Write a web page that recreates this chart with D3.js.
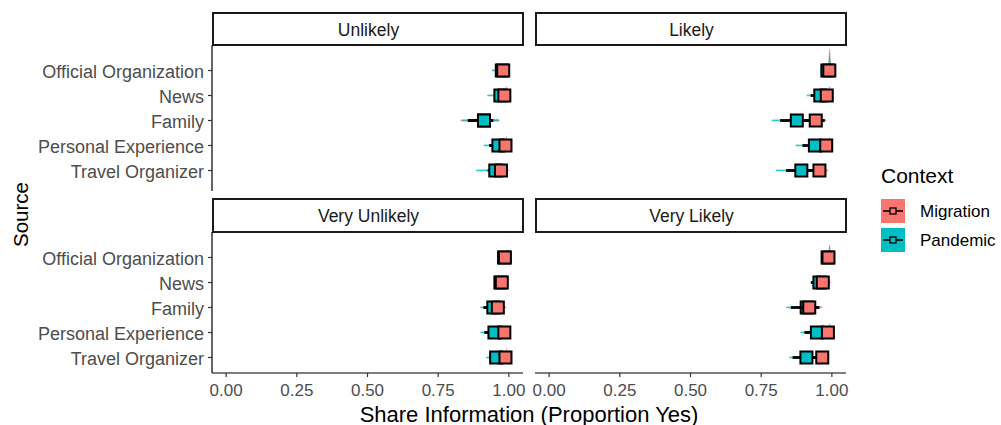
<!DOCTYPE html>
<html>
<head>
<meta charset="utf-8">
<script src="https://cdn.jsdelivr.net/npm/d3@7.9.0/dist/d3.min.js"></script>
<style>
  body { margin: 0; background: #fff; }
  svg { font-family: "Liberation Sans", Arial, sans-serif; }
</style>
</head>
<body>
<div id="chart"></div>
<script>
// categories
const facets = ["Unlikely", "Likely", "Very Unlikely", "Very Likely"];
const sources = ["Official Organization", "News", "Family", "Personal Experience", "Travel Organizer"];
const contexts = ["Migration", "Pandemic"];
const xTicks = [0, 0.25, 0.5, 0.75, 1];

// rows per source: [point, intervalLo, intervalHi, slabMin, slabMax, peakDensity]
const migUnlikely = [
  [0.980, 0.965, 0.995, 0.955, 1.000, 0.30],
  [0.984, 0.965, 0.998, 0.950, 1.000, 0.40],
  [0.912, 0.855, 0.945, 0.830, 0.965, 0.00],
  [0.988, 0.970, 1.000, 0.955, 1.000, 0.40],
  [0.972, 0.950, 0.990, 0.935, 1.000, 0.10]
];
const panUnlikely = [
  [0.975, 0.960, 0.990, 0.940, 1.000, 0.05],
  [0.970, 0.950, 0.985, 0.925, 0.995, 0.00],
  [0.912, 0.855, 0.940, 0.835, 0.965, 0.00],
  [0.963, 0.930, 0.985, 0.912, 0.995, 0.00],
  [0.952, 0.925, 0.975, 0.885, 0.990, 0.00]
];
const migLikely = [
  [0.991, 0.980, 1.000, 0.970, 1.000, 0.95],
  [0.982, 0.965, 0.997, 0.955, 1.000, 0.40],
  [0.943, 0.900, 0.975, 0.880, 0.980, 0.05],
  [0.980, 0.960, 0.995, 0.950, 1.000, 0.35],
  [0.956, 0.920, 0.980, 0.900, 0.985, 0.00]
];
const panLikely = [
  [0.984, 0.970, 0.997, 0.960, 1.000, 0.80],
  [0.959, 0.925, 0.980, 0.912, 0.990, 0.00],
  [0.876, 0.817, 0.920, 0.788, 0.940, 0.00],
  [0.940, 0.896, 0.970, 0.873, 0.985, 0.00],
  [0.892, 0.838, 0.930, 0.803, 0.950, 0.00]
];
const migVeryUnlikely = [
  [0.986, 0.975, 0.997, 0.965, 1.000, 0.35],
  [0.975, 0.960, 0.990, 0.955, 0.998, 0.00],
  [0.961, 0.940, 0.980, 0.930, 0.990, 0.00],
  [0.984, 0.965, 0.998, 0.955, 1.000, 0.30],
  [0.988, 0.975, 1.000, 0.965, 1.000, 0.40]
];
const panVeryUnlikely = [
  [0.983, 0.972, 0.995, 0.965, 1.000, 0.00],
  [0.970, 0.955, 0.985, 0.950, 0.990, 0.00],
  [0.945, 0.910, 0.970, 0.900, 0.980, 0.00],
  [0.949, 0.913, 0.975, 0.900, 0.985, 0.00],
  [0.955, 0.930, 0.975, 0.920, 0.985, 0.00]
];
const migVeryLikely = [
  [0.988, 0.978, 0.998, 0.970, 1.000, 0.55],
  [0.968, 0.950, 0.985, 0.945, 0.995, 0.00],
  [0.920, 0.890, 0.956, 0.880, 0.965, 0.00],
  [0.986, 0.970, 0.998, 0.960, 1.000, 0.40],
  [0.966, 0.930, 0.985, 0.920, 0.990, 0.00]
];
const panVeryLikely = [
  [0.985, 0.975, 0.995, 0.965, 1.000, 0.50],
  [0.956, 0.926, 0.980, 0.925, 0.985, 0.00],
  [0.911, 0.855, 0.940, 0.840, 0.950, 0.00],
  [0.947, 0.903, 0.970, 0.890, 0.980, 0.00],
  [0.910, 0.861, 0.940, 0.850, 0.955, 0.00]
];
// rows where the Pandemic point lies above the Migration point
const pandemicOnTop = [["Unlikely", "Family"]];

const colors = { Migration: "#F8766D", Pandemic: "#00BFC4" };
const series = {
  Migration: { "Unlikely": migUnlikely, "Likely": migLikely, "Very Unlikely": migVeryUnlikely, "Very Likely": migVeryLikely },
  Pandemic: { "Unlikely": panUnlikely, "Likely": panLikely, "Very Unlikely": panVeryUnlikely, "Very Likely": panVeryLikely }
};

const rows = [];
facets.forEach(f => contexts.forEach(c => series[c][f].forEach((r, i) => {
  rows.push({ facet: f, context: c, source: sources[i],
    point: r[0], lo: r[1], hi: r[2], sMin: r[3], sMax: r[4], peak: r[5] });
})));

// layout
const W = 1001, H = 425;
const cols = [{ x0: 212, x1: 523 }, { x0: 535, x1: 846 }];
const panelRows = [{ strip: 12, top: 45, bottom: 191 }, { strip: 198, top: 232, bottom: 373 }];

const svg = d3.select("#chart").append("svg")
  .attr("width", W).attr("height", H);

const textCol = "#4d4d4d";

function xScale(ci) {
  return d3.scaleLinear().domain([-0.05, 1.05]).range([cols[ci].x0, cols[ci].x1]);
}
function yScale(ri) {
  const p = panelRows[ri];
  return d3.scalePoint().domain(sources).range([p.top + 25.5, p.top + 125.5]);
}

facets.forEach((f, fi) => {
  const ci = fi % 2, ri = Math.floor(fi / 2);
  const x = xScale(ci), y = yScale(ri);
  const c = cols[ci], p = panelRows[ri];
  const g = svg.append("g");
  const step = y.step();
  const dens = d3.scaleLinear().domain([0, 1]).range([0, 0.9 * step]);

  // strip
  g.append("rect")
    .attr("x", c.x0 + 1).attr("y", p.strip + 1)
    .attr("width", c.x1 - c.x0 - 1).attr("height", p.top - p.strip - 1)
    .attr("fill", "#fff").attr("stroke", "#1a1a1a").attr("stroke-width", 2);
  g.append("text")
    .attr("x", (c.x0 + c.x1) / 2 + 1).attr("y", (p.strip + p.top) / 2 + 1)
    .attr("text-anchor", "middle").attr("dominant-baseline", "central")
    .attr("font-size", 17.5).attr("fill", "#1a1a1a")
    .text(f);

  const fr = rows.filter(d => d.facet === f);

  // slabs (half-eye densities)
  fr.forEach(d => {
    const y0 = y(d.source);
    const pk = d.sMax - 0.008;
    const h = Math.max(1, dens(d.peak));
    const path = d3.path();
    path.moveTo(x(d.sMin), y0 + 0.5);
    path.lineTo(x(d.sMin), y0 - 0.6);
    path.lineTo(x(pk - 0.004), y0 - 0.8);
    path.lineTo(x(pk), y0 - h);
    path.lineTo(x(Math.min(d.sMax, pk + 0.004)), y0 - 0.8);
    path.lineTo(x(d.sMax), y0 - 0.6);
    path.lineTo(x(d.sMax), y0 + 0.5);
    path.closePath();
    g.append("path")
      .attr("d", path.toString())
      .attr("fill", colors[d.context])
      .attr("stroke", colors[d.context])
      .attr("stroke-width", 0.6)
      .attr("opacity", 0.8);
  });

  // intervals + points, ordered
  const ordered = [];
  sources.forEach(s => {
    const flip = pandemicOnTop.some(t => t[0] === f && t[1] === s);
    const order = flip ? ["Migration", "Pandemic"] : ["Pandemic", "Migration"];
    order.forEach(cn => ordered.push(fr.find(d => d.source === s && d.context === cn)));
  });
  ordered.forEach(d => {
    const y0 = y(d.source);
    g.append("line")
      .attr("x1", x(d.lo)).attr("x2", x(d.hi))
      .attr("y1", y0).attr("y2", y0)
      .attr("stroke", "#000").attr("stroke-width", 2.8);
    g.append("rect")
      .attr("x", x(d.point) - 6).attr("y", y0 - 6)
      .attr("width", 12).attr("height", 12)
      .attr("fill", colors[d.context])
      .attr("stroke", "#000").attr("stroke-width", 2);
  });

  // y axis on left panels
  if (ci === 0) {
    g.append("line")
      .attr("x1", c.x0).attr("x2", c.x0)
      .attr("y1", p.top).attr("y2", p.bottom)
      .attr("stroke", "#000").attr("stroke-width", 1.2);
    sources.forEach(s => {
      g.append("line")
        .attr("x1", c.x0 - 4).attr("x2", c.x0)
        .attr("y1", y(s)).attr("y2", y(s))
        .attr("stroke", "#333").attr("stroke-width", 1.2);
      g.append("text")
        .attr("x", c.x0 - 8).attr("y", y(s) + 1)
        .attr("text-anchor", "end").attr("dominant-baseline", "central")
        .attr("font-size", 18).attr("fill", textCol)
        .text(s);
    });
  }

  // x axis on bottom panels
  if (ri === 1) {
    g.append("line")
      .attr("x1", c.x0).attr("x2", c.x1)
      .attr("y1", p.bottom).attr("y2", p.bottom)
      .attr("stroke", "#000").attr("stroke-width", 1.2);
    xTicks.forEach(t => {
      g.append("line")
        .attr("x1", x(t)).attr("x2", x(t))
        .attr("y1", p.bottom).attr("y2", p.bottom + 4)
        .attr("stroke", "#333").attr("stroke-width", 1.2);
      g.append("text")
        .attr("x", x(t)).attr("y", p.bottom + 17.5)
        .attr("text-anchor", "middle").attr("dominant-baseline", "central")
        .attr("font-size", 17).attr("fill", textCol)
        .text(d3.format(".2f")(t));
    });
  }
});

// axis titles
svg.append("text")
  .attr("x", (cols[0].x0 + cols[1].x1) / 2).attr("y", 414)
  .attr("text-anchor", "middle").attr("dominant-baseline", "central")
  .attr("font-size", 22).attr("fill", "#000")
  .text("Share Information (Proportion Yes)");

svg.append("text")
  .attr("transform", `translate(20,${(panelRows[0].strip + panelRows[1].bottom) / 2 + 22}) rotate(-90)`)
  .attr("text-anchor", "middle").attr("dominant-baseline", "central")
  .attr("font-size", 20.5).attr("fill", "#000")
  .text("Source");

// legend
const legend = svg.append("g").attr("transform", "translate(881,175)");
legend.append("text")
  .attr("x", 0).attr("y", 0)
  .attr("dominant-baseline", "central")
  .attr("font-size", 21).attr("fill", "#000")
  .text("Context");
contexts.forEach((cn, i) => {
  const ky = 24 + i * 29;
  const k = legend.append("g").attr("transform", `translate(0,${ky})`);
  k.append("rect").attr("width", 24).attr("height", 24).attr("fill", colors[cn]);
  k.append("line").attr("x1", 2).attr("x2", 22).attr("y1", 12).attr("y2", 12)
    .attr("stroke", "#000").attr("stroke-width", 1.6);
  k.append("rect").attr("x", 9).attr("y", 9).attr("width", 6).attr("height", 6)
    .attr("fill", colors[cn]).attr("stroke", "#000").attr("stroke-width", 1.3);
  k.append("text")
    .attr("x", 39).attr("y", 12)
    .attr("dominant-baseline", "central")
    .attr("font-size", 17).attr("fill", "#000")
    .text(cn);
});
</script>
</body>
</html>
